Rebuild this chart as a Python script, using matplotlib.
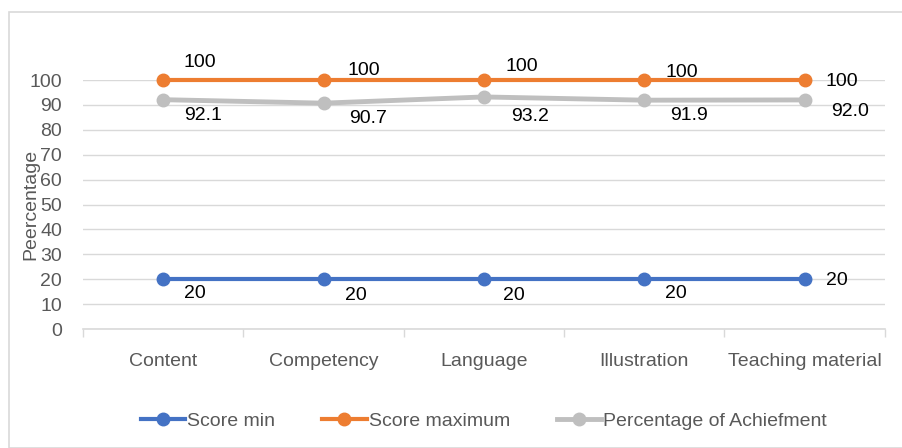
import numpy as np
import matplotlib.pyplot as plt
from matplotlib.patches import Rectangle

categories = ['Content', 'Competency', 'Language', 'Illustration', 'Teaching material']
score_min = [20, 20, 20, 20, 20]
score_max = [100, 100, 100, 100, 100]
achievement = [92.1, 90.7, 93.2, 91.9, 92.0]

plt.rcParams['font.family'] = ['Liberation Sans', 'DejaVu Sans']
fs = 14

fig = plt.figure(figsize=(9.02, 4.48), dpi=100)
ax = fig.add_axes([0.092, 0.2656, 0.889, 0.5558])

# chart border like the Excel chart area
fig.patches.append(Rectangle((9 / 902, 0), 1, 1 - 12 / 448, transform=fig.transFigure,
                             fill=False, edgecolor='#d9d9d9', linewidth=1.2))

x = np.arange(len(categories))
ax.plot(x, score_min, color='#4472C4', lw=3, marker='o', ms=9, label='Score min', clip_on=False, zorder=3)
ax.plot(x, score_max, color='#ED7D31', lw=3, marker='o', ms=9, label='Score maximum', clip_on=False, zorder=3)
ax.plot(x, achievement, color='#BFBFBF', lw=3.5, marker='o', ms=9, label='Percentage of Achiefment', clip_on=False, zorder=3)

# data labels (pixel offsets)
max_off = [(37, 18), (40, 10), (38, 14), (38, 8), (37, -1)]
ach_off = [(40, -16), (45, -15), (46, -20), (45, -15), (45, -12)]
min_off = [(32, -14), (32, -16), (30, -16), (32, -14), (32, -1)]
for i in range(len(categories)):
    ax.annotate(str(score_max[i]), (x[i], score_max[i]), xytext=max_off[i], textcoords='offset pixels',
                ha='center', va='center', fontsize=fs, color='#000000')
    ax.annotate('%.1f' % achievement[i], (x[i], achievement[i]), xytext=ach_off[i], textcoords='offset pixels',
                ha='center', va='center', fontsize=fs, color='#000000')
    ax.annotate(str(score_min[i]), (x[i], score_min[i]), xytext=min_off[i], textcoords='offset pixels',
                ha='center', va='center', fontsize=fs, color='#000000')

ax.set_xlim(-0.5, len(categories) - 0.5)
ax.set_ylim(0, 100)
ax.set_yticks(np.arange(0, 101, 10))
ax.set_xticks(x)
ax.set_xticklabels(categories)
ax.set_xticks(np.arange(-0.5, len(categories), 1), minor=True)
ax.tick_params(axis='x', which='major', length=0, pad=17, labelsize=fs, labelcolor='#595959')
ax.tick_params(axis='x', which='minor', length=6, color='#d9d9d9', width=1)
ax.tick_params(axis='y', length=0, pad=15, labelsize=fs, labelcolor='#595959')

ax.grid(axis='y', color='#d9d9d9', linewidth=1)
ax.set_axisbelow(True)
for s in ['top', 'right', 'left']:
    ax.spines[s].set_visible(False)
ax.spines['bottom'].set_color('#d9d9d9')
ax.spines['bottom'].set_linewidth(1.2)

ax.set_ylabel('Peercentage', fontsize=fs, color='#595959')
ax.yaxis.set_label_coords(-0.055, 0.5)

ax.legend(loc='center', bbox_to_anchor=(0.5, -0.37), ncol=3, frameon=False, fontsize=fs,
          labelcolor='#595959', handlelength=2.3, handletextpad=0.1, columnspacing=2.4)

fig.savefig('out.png', dpi=100)
